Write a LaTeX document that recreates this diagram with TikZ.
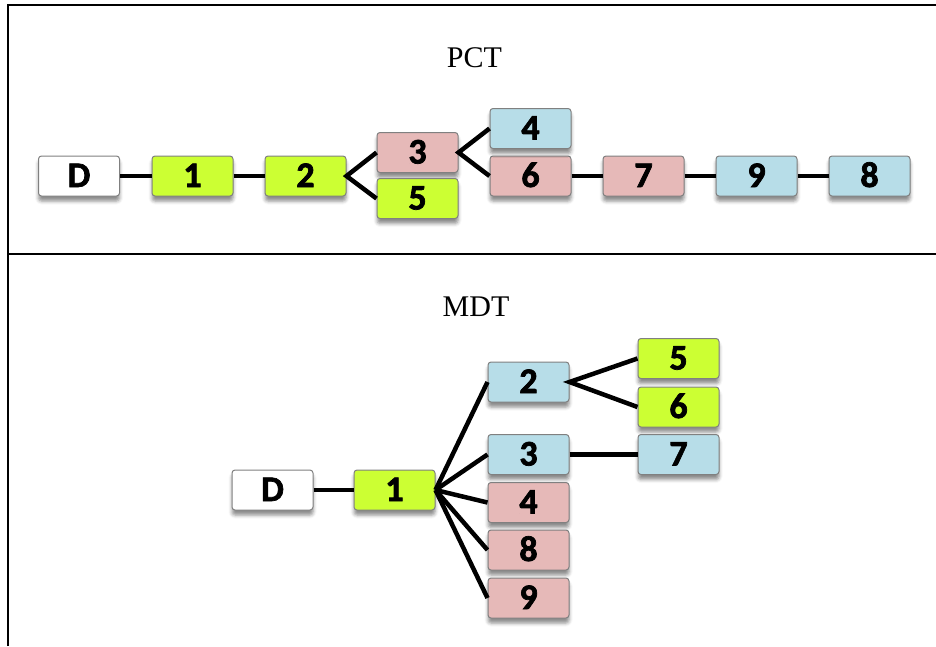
\documentclass[tikz,border=0pt]{standalone}
\usepackage{fontspec}
\setmainfont{Liberation Serif}
\newfontfamily\numfont{Carlito}[BoldFeatures={FakeBold=2}]
\usetikzlibrary{shadows.blur}

\definecolor{leafgreen}{RGB}{204,255,51}
\definecolor{rosebox}{RGB}{230,185,184}
\definecolor{skybox}{RGB}{183,221,232}

\tikzset{
  tnode/.style={draw=black!50, line width=1pt, rounded corners=3pt,
    minimum width=81pt, minimum height=40pt, inner sep=0pt,
    text height=22pt, text depth=0pt,
    font=\numfont\bfseries\fontsize{36}{36}\selectfont,
    blur shadow={shadow xshift=0pt, shadow yshift=-5pt,
      shadow blur radius=3.5pt, shadow opacity=45}},
  link/.style={line width=4.5pt, line join=miter},
  title/.style={anchor=base, font=\fontsize{30}{30}\selectfont}
}

\begin{document}
\begin{tikzpicture}[x=1pt,y=-1pt]
\useasboundingbox (0,0) rectangle (936,646);
% table rules
\draw[line width=2.5pt] (8,646) -- (8,5) -- (936,5);
\draw[line width=2.5pt] (8,254) -- (936,254);

\node[title] (pct) at (474.5,67) {PCT};
\node[title] (mdt) at (476,316) {MDT};

% PCT
\foreach \n/\x/\c in {D/79/white,1/192.5/leafgreen,2/305.5/leafgreen,
    6/530.5/rosebox,7/643.5/rosebox,9/756.5/skybox,8/869.5/skybox}
   \node[tnode, fill=\c] (p\n) at (\x,176) {\n};
\node[tnode, fill=rosebox] (p3) at (417.5,152.5) {3};
\node[tnode, fill=leafgreen] (p5) at (417.5,198.5) {5};
\node[tnode, fill=skybox] (p4) at (530.5,128.5) {4};

\draw[link] (pD) -- (p1);
\draw[link] (p1) -- (p2);
\draw[link] (p3.west) -- (p2.east) -- (p5.west);
\draw[link] (p4.west) -- (p3.east) -- (p6.west);
\draw[link] (p6) -- (p7);
\draw[link] (p7) -- (p9);
\draw[link] (p9) -- (p8);

% MDT
\node[tnode, fill=white] (mD) at (272.5,490) {D};
\node[tnode, fill=leafgreen] (m1) at (394.5,490) {1};
\foreach \n/\y/\c in {2/382/skybox,3/454.5/skybox,4/502.5/rosebox,
    8/550/rosebox,9/598/rosebox}
   \node[tnode, fill=\c] (m\n) at (528.5,\y) {\n};
\foreach \n/\y/\c in {5/358.5/leafgreen,6/407/leafgreen,7/454.5/skybox}
   \node[tnode, fill=\c] (m\n) at (678.5,\y) {\n};

\draw[link] (mD) -- (m1);
\foreach \n in {2,3,4,8,9}
   \draw[link] (m1.east) -- (m\n.west);
\draw[link] (m5.west) -- (m2.east) -- (m6.west);
\draw[link] (m3) -- (m7);
\end{tikzpicture}
\end{document}
